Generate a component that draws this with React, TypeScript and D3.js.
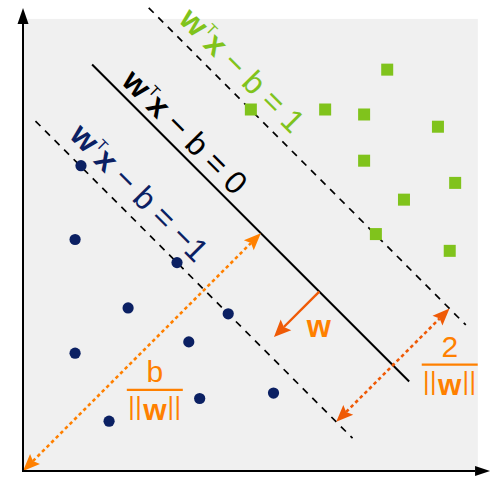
import React from "react";
import * as d3 from "d3";

const WIDTH = 494;
const HEIGHT = 477;

// Class −1 samples (circles)
const negX = [1.28, 1.15, 3.4, 2.32, 4.53, 1.15, 3.66, 3.9, 1.9, 5.53];
const negY = [6.74, 5.11, 4.6, 3.6, 3.47, 2.6, 2.85, 1.6, 1.1, 1.72];

// Class +1 samples (squares)
const posX = [8.04, 5.03, 6.67, 7.53, 9.16, 7.53, 9.54, 8.41, 7.79, 9.42];
const posY = [8.86, 7.98, 7.98, 7.87, 7.6, 6.85, 6.36, 5.99, 5.23, 4.86];

// Separating hyperplane w·x − b = c, with w = (wv, wv)
const wv = 0.4;
const bias = 4.2;
const levelValues = [1, 0, -1];
const levelText = ["1", "0", "\u22121"];
// extent of each drawn line along its own direction (t = x − y)
const lineT = [-7.45, 6.55];
// label start along each line, and baseline offset from it (px)
const labelT = [-6.52, -6.42, -6.38];
const labelOffset = [11, 7, 12];

// annotation placements (data units)
const marginArrowT = 5.83; // where the 2/||w|| arrow crosses the margin
const wArrowT = 2.58; // where the w arrow starts on the hyperplane
const wArrowEndS = 8.5; // x + y value at the w arrow tip
const wLabel = [6.53, 2.96];
const bFracCenter = [2.91, 1.79];
const marginFracCenter = [9.42, 2.35];

const GREEN = "#80c31c";
const NAVY = "#0b2063";
const ORANGE = "#ff8000";
const ORANGE_DARK = "#ef5a06";
const FONT = "'Liberation Sans', Arial, Helvetica, sans-serif";

type P = [number, number];

function arrowHead(tip: P, from: P, len: number, half: number, notch = 3) {
  const dx = tip[0] - from[0];
  const dy = tip[1] - from[1];
  const L = Math.hypot(dx, dy);
  const ux = dx / L;
  const uy = dy / L;
  const bx = tip[0] - ux * len;
  const by = tip[1] - uy * len;
  const nx = bx + ux * notch;
  const ny = by + uy * notch;
  const pts = [
    [tip[0], tip[1]],
    [bx - uy * half, by + ux * half],
    [nx, ny],
    [bx + uy * half, by - ux * half],
  ];
  return { points: pts.map((p) => p.join(",")).join(" "), base: [nx, ny] as P };
}

function Fraction({ cx, cy, top, color }: { cx: number; cy: number; top: string; color: string }) {
  return (
    <g fill={color} fontFamily={FONT} textAnchor="middle">
      <text x={cx} y={cy - 8} fontSize={30}>
        {top}
      </text>
      <line x1={cx - 28} x2={cx + 28} y1={cy} y2={cy} stroke={color} strokeWidth={2.2} />
      <text x={cx} y={cy + 30} fontSize={30}>
        <tspan fontSize={25} dy={-5} letterSpacing={0.5}>||</tspan>
        <tspan fontWeight="bold" dy={5} dx={1}>w</tspan>
        <tspan fontSize={25} dy={-5} dx={1} letterSpacing={0.5}>||</tspan>
      </text>
    </g>
  );
}

export default function App() {
  const x = d3.scaleLinear().domain([0, 10]).range([23, 476]);
  const y = d3.scaleLinear().domain([0, 10]).range([471, 18]);
  const at = (s: number, t: number): P => [x((s + t) / 2), y((s - t) / 2)];
  const level = (c: number) => (bias + c) / wv;

  const lineColors = [GREEN, "#000", NAVY];

  // axes
  const origin: P = [x(0), y(0)];
  const yTop: P = [x(0), y(10.22)];
  const xEnd: P = [x(10.31), y(0)];
  const yHead = arrowHead(yTop, origin, 16, 5.5, 0);
  const xHead = arrowHead(xEnd, origin, 15, 5, 0);

  // b/||w|| arrow: origin to foot of the perpendicular on the hyperplane
  const s0 = level(0);
  const foot: P = at(s0, 0);
  const bHeadTop = arrowHead(foot, origin, 17, 7);
  const bHeadBot = arrowHead(origin, foot, 17, 7);

  // 2/||w|| arrow across the margin
  const mLow = at(level(-1), marginArrowT);
  const mHigh = at(level(1), marginArrowT);
  const mHeadTop = arrowHead(mHigh, mLow, 17, 7);
  const mHeadBot = arrowHead(mLow, mHigh, 17, 7);

  // w arrow
  const wStart = at(s0, wArrowT);
  const wTip = at(wArrowEndS, wArrowT);
  const wHead = arrowHead(wTip, wStart, 17, 7.5);

  return (
    <svg
      width={WIDTH}
      height={HEIGHT}
      style={{ position: "absolute", left: 0, top: 0, display: "block" }}
    >
      <rect x={0} y={0} width={WIDTH} height={HEIGHT} fill="#fff" />
      <rect
        x={x(0)}
        y={y(9.98)}
        width={x(10.04) - x(0)}
        height={y(0) - y(9.98)}
        fill="#f0f0f0"
      />

      {/* margin lines and hyperplane */}
      {levelValues.map((c) => {
        const a = at(level(c), lineT[0]);
        const z = at(level(c), lineT[1]);
        return (
          <line
            key={"l" + c}
            x1={a[0]}
            y1={a[1]}
            x2={z[0]}
            y2={z[1]}
            stroke="#000"
            strokeWidth={c === 0 ? 2 : 1.7}
            strokeDasharray={c === 0 ? undefined : "7 6.5"}
          />
        );
      })}

      {/* line labels */}
      {levelValues.map((c, i) => {
        const p = at(level(c), labelT[i]);
        return (
          <text
            key={"t" + c}
            transform={`translate(${p[0]},${p[1]}) rotate(45)`}
            y={-labelOffset[i]}
            fill={lineColors[i]}
            fontFamily={FONT}
            fontSize={32}
          >
            <tspan fontWeight="bold">w</tspan>
            <tspan fontSize={15} dy={-13} dx={0.5}>
              T
            </tspan>
            <tspan fontWeight="bold" dy={13}>
              x
            </tspan>
            <tspan>{` \u2212 b = ${levelText[i]}`}</tspan>
          </text>
        );
      })}

      {/* samples */}
      {negX.map((v, i) => (
        <circle key={"n" + i} cx={x(v)} cy={y(negY[i])} r={5.6} fill={NAVY} />
      ))}
      {posX.map((v, i) => (
        <rect
          key={"p" + i}
          x={x(v) - 6}
          y={y(posY[i]) - 6}
          width={12}
          height={12}
          fill={GREEN}
        />
      ))}

      {/* b/||w|| arrow */}
      <line
        x1={bHeadBot.base[0]}
        y1={bHeadBot.base[1]}
        x2={bHeadTop.base[0]}
        y2={bHeadTop.base[1]}
        stroke={ORANGE}
        strokeWidth={2.6}
        strokeDasharray="3.5 3"
      />
      <polygon points={bHeadTop.points} fill={ORANGE} />
      <polygon points={bHeadBot.points} fill={ORANGE} />

      {/* 2/||w|| arrow */}
      <line
        x1={mHeadBot.base[0]}
        y1={mHeadBot.base[1]}
        x2={mHeadTop.base[0]}
        y2={mHeadTop.base[1]}
        stroke={ORANGE_DARK}
        strokeWidth={2.6}
        strokeDasharray="3.5 3"
      />
      <polygon points={mHeadTop.points} fill={ORANGE_DARK} />
      <polygon points={mHeadBot.points} fill={ORANGE_DARK} />

      {/* w arrow */}
      <line
        x1={wStart[0]}
        y1={wStart[1]}
        x2={wHead.base[0]}
        y2={wHead.base[1]}
        stroke={ORANGE_DARK}
        strokeWidth={2.4}
      />
      <polygon points={wHead.points} fill={ORANGE_DARK} />
      <text
        x={x(wLabel[0])}
        y={y(wLabel[1])}
        textAnchor="middle"
        fontFamily={FONT}
        fontWeight="bold"
        fontSize={31}
        fill={ORANGE}
      >
        w
      </text>

      <Fraction cx={x(bFracCenter[0])} cy={y(bFracCenter[1])} top="b" color={ORANGE} />
      <Fraction
        cx={x(marginFracCenter[0])}
        cy={y(marginFracCenter[1])}
        top="2"
        color={ORANGE}
      />

      {/* axes */}
      <line x1={origin[0]} y1={origin[1]} x2={yHead.base[0]} y2={yHead.base[1]} stroke="#000" strokeWidth={2} />
      <line x1={origin[0] - 1} y1={origin[1]} x2={xHead.base[0]} y2={xHead.base[1]} stroke="#000" strokeWidth={2} />
      <polygon points={yHead.points} fill="#000" />
      <polygon points={xHead.points} fill="#000" />
    </svg>
  );
}
